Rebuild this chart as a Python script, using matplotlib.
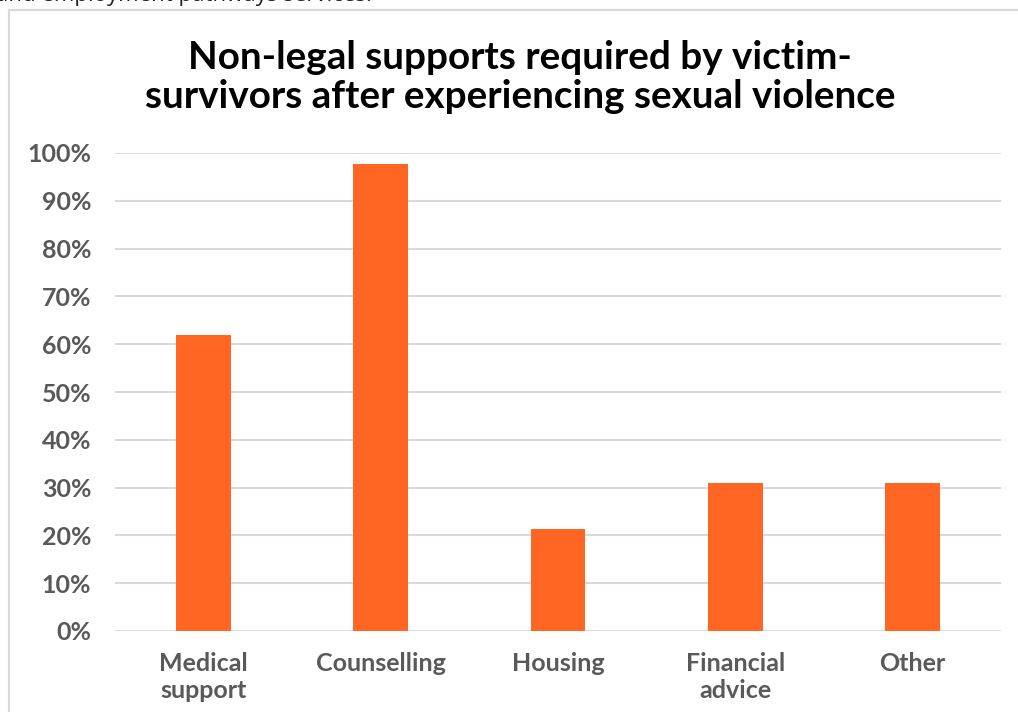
import matplotlib
matplotlib.use("Agg")
import matplotlib.pyplot as plt
from matplotlib.lines import Line2D
from matplotlib.ticker import FuncFormatter

categories = ["Medical\nsupport", "Counselling", "Housing", "Financial\nadvice", "Other"]
shares = [61.9, 97.6, 21.4, 31.0, 31.0]
y_ticks = [0, 10, 20, 30, 40, 50, 60, 70, 80, 90, 100]

title = "Non-legal supports required by victim-\nsurvivors after experiencing sexual violence"
bar_color = "#FF6624"
tick_color = "#595959"
grid_color = "#D9D9D9"

W, H = 1018, 712
fig = plt.figure(figsize=(W / 100, H / 100), dpi=100)

# body text running above the chart frame (mostly cut off by the page edge)
fig.text(-0.004, 1 - 1 / H, "and employment pathways services.", fontsize=16,
         family="Open Sans", color="#222222", ha="left", va="baseline")

# chart frame
fig.add_artist(Line2D([8.5 / W, 1.0], [1 - 9.5 / H] * 2, color=grid_color, lw=1.5,
                      transform=fig.transFigure))
fig.add_artist(Line2D([8.5 / W, 8.5 / W], [0, 1 - 9.5 / H], color=grid_color, lw=1.5,
                      transform=fig.transFigure))

ax = fig.add_axes([115 / W, 1 - 631 / H, (1001 - 115) / W, (631 - 153) / H])
x = range(len(categories))
ax.bar(x, shares, width=0.31, color=bar_color, zorder=3)
ax.set_xlim(-0.5, len(categories) - 0.5)
ax.set_ylim(0, 100)
ax.set_yticks(y_ticks)
ax.yaxis.set_major_formatter(FuncFormatter(lambda v, p: f"{v:.0f}%"))
ax.set_xticks(list(x))
ax.set_xticklabels(categories)
ax.grid(axis="y", color=grid_color, lw=1.5, zorder=0)
ax.set_axisbelow(True)
for s in ax.spines.values():
    s.set_visible(False)
ax.tick_params(axis="both", length=0, colors=tick_color, labelsize=18)
ax.tick_params(axis="y", pad=17)
ax.tick_params(axis="x", pad=15)
for lab in ax.get_xticklabels() + ax.get_yticklabels():
    lab.set_family("Lato")
    lab.set_fontweight("bold")
    lab.set_linespacing(1.2)

fig.text(520 / W, 1 - 77 / H, title, ha="center", va="center", fontsize=27.8,
         family="Lato", fontweight="bold", color="black", linespacing=1.12)

fig.savefig("out.png", dpi=100)
